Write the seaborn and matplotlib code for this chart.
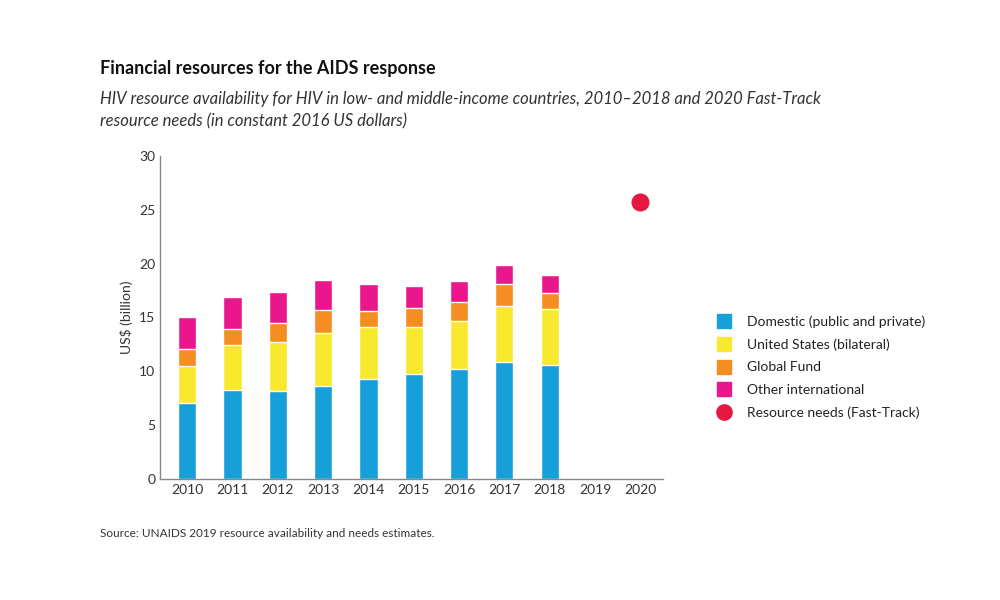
import pandas as pd
import numpy as np
import seaborn as sns
import matplotlib.pyplot as plt
from matplotlib.lines import Line2D

sns.set_style("white")
plt.rcParams['font.family'] = ['Lato', 'DejaVu Sans']

# 数据
years = ["2010", "2011", "2012", "2013", "2014", "2015", "2016", "2017", "2018", "2019", "2020"]
bar_years = years[:9]
domestic = [7.04, 8.27, 8.18, 8.67, 9.26, 9.75, 10.25, 10.83, 10.62]
us_bilateral = [3.46, 4.20, 4.51, 4.91, 4.84, 4.35, 4.38, 5.22, 5.12]
global_fund = [1.60, 1.48, 1.75, 2.10, 1.49, 1.76, 1.82, 2.01, 1.57]
other_intl = [2.90, 2.90, 2.94, 2.75, 2.53, 2.10, 1.95, 1.79, 1.61]
needs_year = ["2020"]
needs_value = [25.7]

labels = ["Domestic (public and private)", "United States (bilateral)",
          "Global Fund", "Other international"]
colors = ["#179fda", "#f8e92e", "#f48d22", "#e9168c"]
needs_color = "#e5173f"

series = [domestic, us_bilateral, global_fund, other_intl]
cum = np.cumsum(np.array(series), axis=0)

fig = plt.figure(figsize=(10, 6), dpi=100)
ax = fig.add_axes([0.16, 0.202, 0.503, 0.538])

# 从最上层开始叠加绘制
for i in range(3, -1, -1):
    df = pd.DataFrame({"year": bar_years, "value": cum[i]})
    sns.barplot(data=df, x="year", y="value", order=years, color=colors[i],
                width=0.4, saturation=1, ax=ax)

df_n = pd.DataFrame({"year": needs_year, "value": needs_value})
sns.stripplot(data=df_n, x="year", y="value", order=years, color=needs_color,
              size=13, jitter=False, ax=ax)

ax.set_ylim(0, 30)
ax.set_xlim(-0.6, 10.5)
ax.set_yticks(range(0, 31, 5))
ax.set_xlabel("")
ax.set_ylabel("US$ (billion)", fontsize=10, color="#333333")
ax.tick_params(axis="both", labelsize=10, colors="#333333", length=0)
for s in ["top", "right"]:
    ax.spines[s].set_visible(False)
for s in ["left", "bottom"]:
    ax.spines[s].set_color("#888888")
    ax.spines[s].set_linewidth(1)

handles = [Line2D([], [], marker="s", linestyle="", markersize=10, color=c) for c in colors]
handles.append(Line2D([], [], marker="o", linestyle="", markersize=11, color=needs_color))
fig.legend(handles, labels + ["Resource needs (Fast-Track)"], loc="center left",
           bbox_to_anchor=(0.698, 0.388), frameon=False, fontsize=10,
           handletextpad=0.6, labelspacing=0.75, labelcolor="#222222")

fig.text(0.1, 0.877, "Financial resources for the AIDS response", fontsize=13,
         fontweight="bold", color="#111111")
fig.text(0.1, 0.79, "HIV resource availability for HIV in low- and middle-income countries, 2010–2018 and 2020 Fast-Track\nresource needs (in constant 2016 US dollars)",
         fontsize=12, style="italic", color="#333333", linespacing=1.45)
fig.text(0.1, 0.105, "Source: UNAIDS 2019 resource availability and needs estimates.",
         fontsize=8.5, color="#333333")

fig.savefig("out.png", dpi=100)
